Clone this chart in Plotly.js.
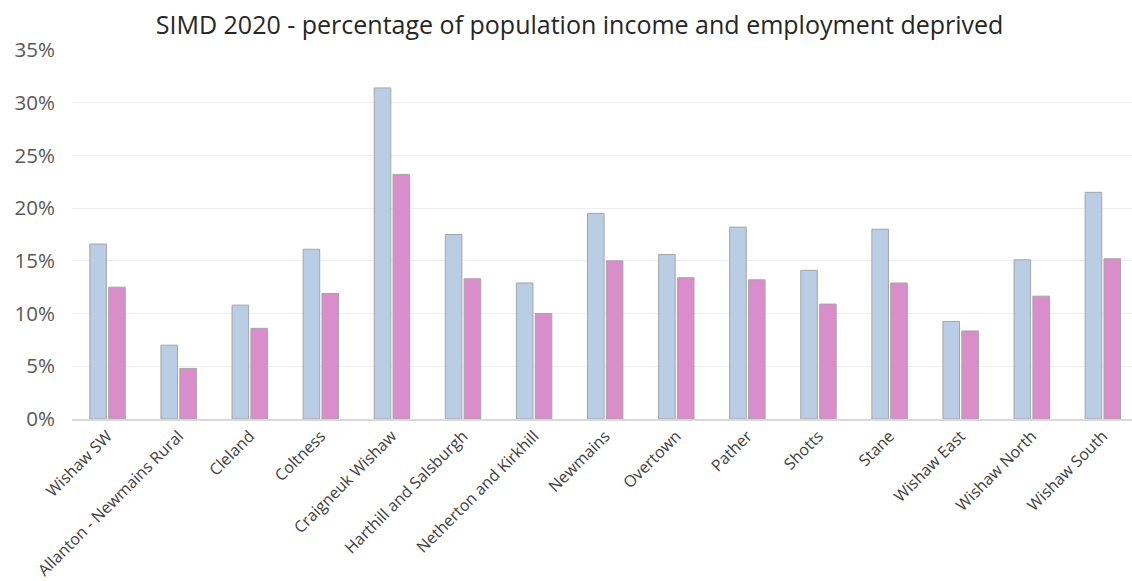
<!DOCTYPE html>
<html>
<head>
<meta charset="utf-8">
<script src="https://cdn.plot.ly/plotly-3.0.1.min.js"></script>
<style>html,body{margin:0;padding:0;background:#fff;}#chart{width:1132px;height:581px;}</style>
</head>
<body>
<div id="chart"></div>
<script>
const categories = ["Wishaw SW", "Allanton - Newmains Rural", "Cleland", "Coltness", "Craigneuk Wishaw",
  "Harthill and Salsburgh", "Netherton and Kirkhill", "Newmains", "Overtown", "Pather", "Shotts",
  "Stane", "Wishaw East", "Wishaw North", "Wishaw South"];
const incomeDeprived = [16.6, 7.0, 10.8, 16.1, 31.4, 17.5, 12.9, 19.5, 15.6, 18.2, 14.1, 18.0, 9.25, 15.1, 21.5];
const employmentDeprived = [12.5, 4.8, 8.6, 11.9, 23.2, 13.3, 10.0, 15.0, 13.4, 13.2, 10.9, 12.9, 8.35, 11.65, 15.2];
const yTicks = [0, 5, 10, 15, 20, 25, 30, 35];

const font = "Open Sans, Liberation Sans, sans-serif";
const traces = [
  {type: "bar", name: "Income deprived", x: categories, y: incomeDeprived,
   marker: {color: "#b9cde5", line: {color: "#a5a5a5", width: 1}}},
  {type: "bar", name: "Employment deprived", x: categories, y: employmentDeprived,
   marker: {color: "#d98ecb", line: {color: "#a5a5a5", width: 1}}}
];
const layout = {
  width: 1132, height: 581,
  margin: {l: 72, r: 0, t: 50, b: 162},
  paper_bgcolor: "#fff", plot_bgcolor: "#fff",
  showlegend: false,
  barmode: "group", bargap: 0.47, bargroupgap: 0.12,
  title: {text: "SIMD 2020 - percentage of population income and employment deprived",
    font: {family: font, size: 25, color: "#262626"}, x: 0.512, xanchor: "center", y: 0.957, yanchor: "middle"},
  xaxis: {type: "category", range: [-0.5, 14.41], tickangle: -45,
    tickfont: {family: font, size: 16, color: "#404040"},
    showline: true, linecolor: "#d9d9d9", linewidth: 1.5, showgrid: false, ticks: "", zeroline: false},
  yaxis: {range: [0, 35], tickvals: yTicks, ticktext: yTicks.map(v => v + "%"),
    tickfont: {family: font, size: 20.5, color: "#595959"}, ticklabelstandoff: 16,
    showgrid: true, gridcolor: "#efefef", gridwidth: 1, zeroline: false, showline: false, ticks: "", ticklen: 0,
    automargin: false}
};
Plotly.newPlot("chart", traces, layout, {displayModeBar: false, staticPlot: true});
</script>
</body>
</html>
